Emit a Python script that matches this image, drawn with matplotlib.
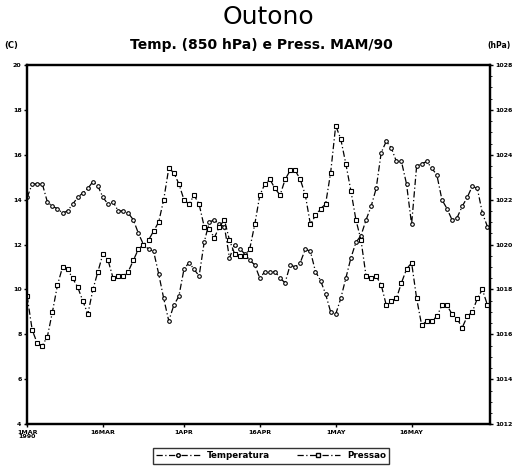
import matplotlib
matplotlib.use("Agg")
import matplotlib.pyplot as plt
from matplotlib.lines import Line2D
import numpy as np

# Days from 1 Mar 1990 (0) to 31 May 1990 (91)
days = list(range(92))

temperatura = [14.1, 14.7, 14.7, 14.7, 13.9, 13.7, 13.6, 13.4, 13.5, 13.8,
               14.1, 14.3, 14.5, 14.8, 14.6, 14.1, 13.8, 13.9, 13.5, 13.5,
               13.4, 13.1, 12.5, 12.0, 11.8, 11.7, 10.7, 9.6, 8.6, 9.3,
               9.7, 10.9, 11.2, 10.9, 10.6, 12.1, 13.0, 13.1, 12.9, 12.8,
               11.4, 12.0, 11.8, 11.6, 11.3, 11.1, 10.5, 10.8, 10.8, 10.8,
               10.5, 10.3, 11.1, 11.0, 11.2, 11.8, 11.7, 10.8, 10.4, 9.8,
               9.0, 8.9, 9.6, 10.5, 11.4, 12.1, 12.4, 13.1, 13.7, 14.5,
               16.1, 16.6, 16.3, 15.7, 15.7, 14.7, 12.9, 15.5, 15.6, 15.7,
               15.4, 15.1, 14.0, 13.6, 13.1, 13.2, 13.7, 14.1, 14.6, 14.5,
               13.4, 12.8]

pressao = [1017.7, 1016.2, 1015.6, 1015.5, 1015.9, 1017.0, 1018.2, 1019.0, 1018.9, 1018.5,
           1018.1, 1017.5, 1016.9, 1018.0, 1018.8, 1019.6, 1019.3, 1018.5, 1018.6, 1018.6,
           1018.8, 1019.3, 1019.8, 1020.0, 1020.2, 1020.6, 1021.0, 1022.0, 1023.4, 1023.2,
           1022.7, 1022.0, 1021.8, 1022.2, 1021.8, 1020.8, 1020.7, 1020.3, 1020.8, 1021.1,
           1020.2, 1019.6, 1019.5, 1019.5, 1019.8, 1020.9, 1022.2, 1022.7, 1022.9, 1022.5,
           1022.2, 1022.9, 1023.3, 1023.3, 1022.9, 1022.2, 1020.9, 1021.3, 1021.6, 1021.8,
           1023.2, 1025.3, 1024.7, 1023.6, 1022.4, 1021.1, 1020.2, 1018.6, 1018.5, 1018.6,
           1018.2, 1017.3, 1017.5, 1017.6, 1018.3, 1018.9, 1019.2, 1017.6, 1016.4, 1016.6,
           1016.6, 1016.8, 1017.3, 1017.3, 1016.9, 1016.7, 1016.3, 1016.8, 1017.0, 1017.6,
           1018.0, 1017.3]

xtick_pos = [0, 15, 31, 46, 61, 76]
xtick_labels = ["1MAR\n1990", "16MAR", "1APR", "16APR", "1MAY", "16MAY"]
temp_ticks = [4, 6, 8, 10, 12, 14, 16, 18, 20]
press_ticks = [1012, 1014, 1016, 1018, 1020, 1022, 1024, 1026, 1028]

plt.rcParams['font.family'] = ['DejaVu Sans']

fig = plt.figure(figsize=(5.12, 4.74), dpi=100)
ax = fig.add_axes([0.053, 0.105, 0.904, 0.758])
ax2 = ax.twinx()

ls = (0, (5, 2, 1, 2))
ax.plot(days, temperatura, color='black', lw=0.9, linestyle=ls,
        marker='o', markersize=2.6, markerfacecolor='white', markeredgewidth=0.8)
ax2.plot(days, pressao, color='black', lw=0.9, linestyle=ls,
         marker='s', markersize=2.6, markerfacecolor='white', markeredgewidth=0.8)

ax.set_xlim(0, 91.5)
ax.set_ylim(4, 20)
ax2.set_ylim(1012, 1028)
ax.set_xticks(xtick_pos)
ax.set_xticklabels(xtick_labels, fontsize=4.5, fontweight='bold', linespacing=0.9)
ax.set_yticks(temp_ticks)
ax.set_yticklabels([str(t) for t in temp_ticks], fontsize=4.5, fontweight='bold')
ax2.set_yticks(press_ticks)
ax2.set_yticklabels([str(t) for t in press_ticks], fontsize=4.5, fontweight='bold')
ax2.set_yticks(np.arange(1012, 1028.1, 0.5), minor=True)

for a in (ax, ax2):
    for s in a.spines.values():
        s.set_linewidth(1.6)
        s.set_color('black')
    a.tick_params(axis='both', length=2.5, width=1.0, pad=1.5, colors='black')
ax2.tick_params(axis='y', which='minor', length=1.5, width=0.6)

fig.text(0.525, 0.964, "Outono", ha='center', va='center', fontsize=18)
fig.text(0.51, 0.905, "Temp. (850 hPa) e Press. MAM/90", ha='center', va='center',
         fontsize=10, fontweight='bold')
fig.text(0.022, 0.905, "(C)", ha='center', va='center', fontsize=6, fontweight='bold')
fig.text(0.998, 0.905, "(hPa)", ha='right', va='center', fontsize=5.5, fontweight='bold')

handles = [Line2D([], [], color='black', lw=0.9, linestyle=ls, marker='o', markersize=2.6,
                  markerfacecolor='white'),
           Line2D([], [], color='black', lw=0.9, linestyle=ls, marker='s', markersize=2.6,
                  markerfacecolor='white')]
leg = fig.legend(handles, ["Temperatura", "Pressao"], loc='center', ncol=2,
                 bbox_to_anchor=(0.53, 0.038), fontsize=6.3, frameon=True, fancybox=False,
                 handlelength=5, columnspacing=3.0, borderpad=0.35)
leg.get_frame().set_edgecolor('black')
leg.get_frame().set_linewidth(1.0)
for t in leg.get_texts():
    t.set_fontweight('bold')

fig.savefig("out.png", dpi=100)
